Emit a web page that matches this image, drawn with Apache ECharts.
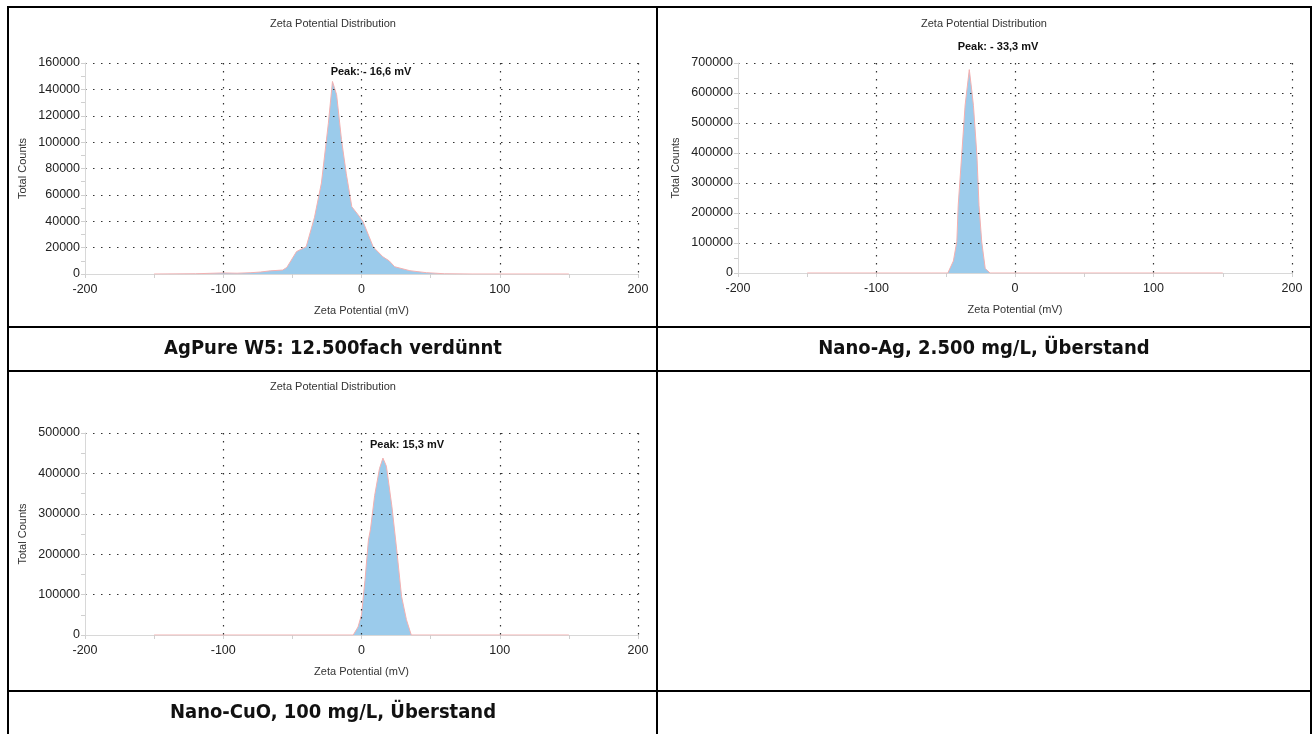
<!DOCTYPE html>
<html>
<head>
<meta charset="utf-8">
<title>Zeta Potential Distribution</title>
<script src="https://cdn.jsdelivr.net/npm/echarts@6/dist/echarts.min.js"></script>
<style>
  html, body { margin: 0; padding: 0; background: #fff; }
  #chart { width: 1314px; height: 734px; }
</style>
</head>
<body>
<div id="chart"></div>
<script>
// values: [zeta potential mV, total counts]
const agPureData = [
  [-150, 0], [-120, 200], [-100, 800], [-90, 600], [-80, 1000], [-73, 1500],
  [-66, 2400], [-57, 3000], [-54, 5000], [-47, 17000], [-40, 20700],
  [-34, 43000], [-29, 69000], [-24, 114000], [-21, 146000], [-18, 136000],
  [-14.5, 102000], [-11, 76000], [-7, 51000], [-2.5, 45000], [1, 40000],
  [8.5, 20500], [15.5, 13000], [20, 10000], [24, 5500], [35, 2500],
  [47, 1000], [60, 200], [80, 0], [150, 0]
];
const nanoAgData = [
  [-150, 0], [-60, 0], [-48.5, 0], [-44.5, 40000], [-42, 105000],
  [-41, 226000], [-38.5, 392000], [-36, 560000], [-33, 678000],
  [-31.5, 620000], [-30, 558000], [-27.5, 392000], [-26, 226000],
  [-24, 103000], [-21.5, 15000], [-18, 0], [150, 0]
];
const nanoCuoData = [
  [-150, 0], [-20, 0], [-6, 0], [-2.5, 20000], [0, 50000], [2.5, 135000],
  [5, 235000], [6.5, 262000], [9.5, 345000], [13, 412000], [15.5, 438000],
  [18, 418000], [22, 318000], [25.5, 210000], [29, 95000], [32.5, 38000],
  [36, 0], [150, 0]
];

const seriesList = [agPureData, nanoAgData, nanoCuoData];
const yMaxList = [160000, 700000, 500000];
const yStepList = [20000, 100000, 100000];
const xMin = -200, xMax = 200, xStep = 100;

const chartTitle = 'Zeta Potential Distribution';
const peakLabels = ['Peak: - 16,6 mV', 'Peak: - 33,3 mV', 'Peak: 15,3 mV'];
const captions = [
  'AgPure W5: 12.500fach verdünnt',
  'Nano-Ag, 2.500 mg/L, Überstand',
  'Nano-CuO, 100 mg/L, Überstand'
];

const FONT = '"Liberation Sans", Arial, sans-serif';
const CAPTION_FONT = '"DejaVu Sans Condensed", "DejaVu Sans", sans-serif';

// plot areas inside the table cells
const grids = [
  { left: 85, top: 63, width: 553, height: 211 },
  { left: 738, top: 63, width: 554, height: 210 },
  { left: 85, top: 433, width: 553, height: 202 }
];
// cell centers for titles / captions
const cellCenters = [333, 984, 333];
const titleY = [24, 24, 387];
const captionY = [349, 349, 713];
const peakPos = [[371, 72], [998, 47], [407, 445]];

const dotted = { type: [1.5, 6.5], color: '#333', width: 1.2 };
const lightTick = { color: '#d0d0d0' };

const chart = echarts.init(document.getElementById('chart'));

const graphic = [];
// table lines
const tl = { stroke: '#000', lineWidth: 2 };
[[7, 7, 1312, 7], [7, 327, 1312, 327], [7, 371, 1312, 371], [7, 691, 1312, 691],
 [8, 6, 8, 734], [657, 6, 657, 734], [1311, 6, 1311, 734]].forEach(p => {
  graphic.push({ type: 'line', shape: { x1: p[0], y1: p[1], x2: p[2], y2: p[3] }, style: tl, silent: true });
});
for (let i = 0; i < 3; i++) {
  graphic.push({
    type: 'text', x: cellCenters[i], y: titleY[i],
    style: { text: chartTitle, font: '11px ' + FONT, fill: '#333', align: 'center', verticalAlign: 'middle' }
  });
  graphic.push({
    type: 'text', x: peakPos[i][0], y: peakPos[i][1],
    style: { text: peakLabels[i], font: 'bold 11px ' + FONT, fill: '#111', align: 'center', verticalAlign: 'middle' }
  });
  graphic.push({
    type: 'text', x: cellCenters[i], y: captionY[i],
    style: { text: captions[i], font: 'bold 20px ' + CAPTION_FONT, fill: '#111', align: 'center', verticalAlign: 'middle' }
  });
}

// two x axes per grid: one under the series (gray line + ticks),
// one above it (dotted grid + labels) so the dots sit on top of the fill
const xAxes = [];
grids.forEach((g, i) => {
  xAxes.push({
    type: 'value', gridIndex: i, position: 'bottom', z: 4,
    min: xMin, max: xMax, interval: xStep,
    name: 'Zeta Potential (mV)',
    nameLocation: 'middle',
    nameGap: 31,
    nameTextStyle: { color: '#333', fontSize: 11, fontFamily: FONT },
    axisLine: { show: false, onZero: false },
    axisTick: { show: false },
    axisLabel: { color: '#222', fontSize: 12.5, margin: 9, fontFamily: FONT },
    splitLine: { show: true, showMinLine: false, lineStyle: dotted }
  });
  xAxes.push({
    type: 'value', gridIndex: i, position: 'bottom', z: 0,
    min: xMin, max: xMax, interval: xStep,
    axisLine: { onZero: false, lineStyle: { color: '#d8d8d8' } },
    axisTick: { length: 4, lineStyle: lightTick },
    minorTick: { show: true, splitNumber: 2, length: 4, lineStyle: lightTick },
    axisLabel: { show: false },
    splitLine: { show: false }
  });
});

chart.setOption({
  backgroundColor: '#fff',
  animation: false,
  grid: grids,
  xAxis: xAxes,
  yAxis: grids.map((g, i) => ({
    type: 'value',
    gridIndex: i,
    z: 4,
    min: 0,
    max: yMaxList[i],
    interval: yStepList[i],
    name: 'Total Counts',
    nameLocation: 'middle',
    nameGap: 57,
    nameTextStyle: { color: '#333', fontSize: 11, fontFamily: FONT },
    axisLine: { show: true, onZero: false, lineStyle: { color: '#d8d8d8' } },
    axisTick: { show: true, length: 4, lineStyle: lightTick },
    minorTick: { show: true, splitNumber: 2, length: 4, lineStyle: lightTick },
    axisLabel: { color: '#222', fontSize: 12.5, margin: 5, fontFamily: FONT, formatter: v => String(v) },
    splitLine: { show: true, showMinLine: false, lineStyle: dotted }
  })),
  series: seriesList.map((d, i) => ({
    type: 'line',
    xAxisIndex: i * 2,
    yAxisIndex: i,
    data: d,
    symbol: 'none',
    lineStyle: { color: '#f3b0b0', width: 1 },
    areaStyle: { color: '#9bcbeb', opacity: 1 },
    z: 2
  })),
  graphic: graphic
});
</script>
</body>
</html>
